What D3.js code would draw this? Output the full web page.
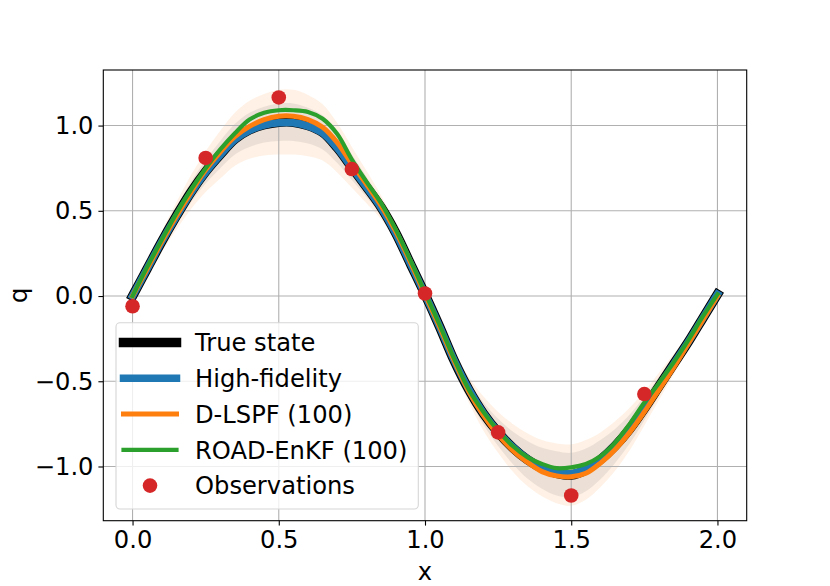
<!DOCTYPE html>
<html>
<head>
<meta charset="utf-8">
<script src="https://cdn.jsdelivr.net/npm/d3@7"></script>
<style>
  body { margin: 0; background: #fff; }
  text { font-family: "DejaVu Sans", sans-serif; }
</style>
</head>
<body>
<svg id="canvas"></svg>
<script>
let width = 830;
let height = 586;
let fontSize = 24.2;

// data, x grid every 0.05
let xs = [0.00,0.05,0.10,0.15,0.20,0.25,0.30,0.35,0.40,0.45,0.50,0.55,0.60,0.65,0.70,0.75,0.80,0.85,0.90,0.95,
          1.00,1.05,1.10,1.15,1.20,1.25,1.30,1.35,1.40,1.45,1.50,1.55,1.60,1.65,1.70,1.75,1.80,1.85,1.90,1.95,2.00];

let trueState = [0.00,0.16,0.32,0.47,0.61,0.73,0.83,0.92,0.975,1.005,1.02,1.02,1.00,0.96,0.87,0.755,0.64,0.52,0.37,0.19,
                 0.01,-0.18,-0.38,-0.55,-0.69,-0.80,-0.89,-0.96,-1.01,-1.04,-1.05,-1.02,-0.96,-0.88,-0.78,-0.66,-0.53,-0.40,-0.27,-0.13,0.01];

let highFidelity = [0.00,0.16,0.32,0.468,0.607,0.727,0.828,0.918,0.972,1.002,1.016,1.016,0.997,0.957,0.868,0.753,0.638,0.518,0.368,0.19,
                    0.01,-0.18,-0.378,-0.548,-0.688,-0.797,-0.886,-0.955,-1.004,-1.033,-1.042,-1.013,-0.955,-0.876,-0.778,-0.658,-0.53,-0.40,-0.27,-0.13,0.01];

let dlspf = [0.00,0.16,0.32,0.47,0.61,0.74,0.845,0.935,0.995,1.035,1.055,1.055,1.035,0.99,0.90,0.775,0.655,0.53,0.38,0.20,
             0.01,-0.18,-0.38,-0.56,-0.70,-0.815,-0.905,-0.975,-1.03,-1.055,-1.06,-1.04,-0.98,-0.90,-0.80,-0.68,-0.55,-0.42,-0.28,-0.14,0.00];

let roadEnkf = [0.00,0.17,0.33,0.485,0.625,0.75,0.86,0.955,1.035,1.075,1.09,1.09,1.08,1.04,0.95,0.80,0.67,0.545,0.39,0.21,
                0.02,-0.17,-0.37,-0.55,-0.68,-0.79,-0.88,-0.945,-0.985,-1.01,-1.005,-0.985,-0.94,-0.86,-0.75,-0.625,-0.51,-0.39,-0.26,-0.12,0.01];

// ensemble spread (half widths) of the two shaded bands
let innerSpread = [0.01,0.02,0.035,0.05,0.06,0.07,0.08,0.09,0.10,0.105,0.11,0.11,0.105,0.10,0.09,0.075,0.06,0.045,0.035,0.025,
                   0.02,0.025,0.035,0.05,0.065,0.08,0.095,0.11,0.12,0.13,0.13,0.125,0.115,0.10,0.085,0.07,0.055,0.045,0.03,0.02,0.01];
let outerSpread = [0.02,0.04,0.06,0.08,0.10,0.12,0.14,0.155,0.17,0.18,0.19,0.19,0.18,0.165,0.145,0.12,0.095,0.07,0.05,0.035,
                   0.03,0.035,0.05,0.075,0.10,0.12,0.14,0.155,0.165,0.175,0.18,0.175,0.16,0.145,0.125,0.10,0.08,0.06,0.045,0.03,0.02];

let obsX = [0.0,0.25,0.5,0.75,1.0,1.25,1.5,1.75];
let obsQ = [-0.06,0.81,1.165,0.745,0.015,-0.80,-1.17,-0.575];

let xTicks = [0.0,0.5,1.0,1.5,2.0];
let yTicks = [-1.0,-0.5,0.0,0.5,1.0];

let series = [
  {name: 'True state', values: trueState, color: '#000000', lw: 9.5},
  {name: 'High-fidelity', values: highFidelity, color: '#1f77b4', lw: 7.5},
  {name: 'D-LSPF (100)', values: dlspf, color: '#ff7f0e', lw: 5},
  {name: 'ROAD-EnKF (100)', values: roadEnkf, color: '#2ca02c', lw: 4.2}
];

let plotLeft = 103.3, plotRight = 746.7, plotTop = 70, plotBottom = 520.7;

let canvas = d3.select('#canvas').attr('width', width).attr('height', height);

let xScale = d3.scaleLinear().domain([-0.1, 2.1]).range([plotLeft, plotRight]);
let yScale = d3.scaleLinear().domain([-1.318, 1.326]).range([plotBottom, plotTop]);

let fmt = d => d3.format('.1f')(d).replace('-', '\u2212');

let drawBands = () => {
  let band = (spread) => d3.area()
    .x((d, i) => xScale(xs[i]))
    .y0((d, i) => yScale(trueState[i] - spread[i]))
    .y1((d, i) => yScale(trueState[i] + spread[i]))
    .curve(d3.curveCatmullRom);

  canvas.append('path')
    .datum(xs)
    .attr('d', band(outerSpread))
    .attr('fill', '#ff7f0e')
    .attr('fill-opacity', 0.11);

  canvas.append('path')
    .datum(xs)
    .attr('d', band(innerSpread))
    .attr('fill', '#808080')
    .attr('fill-opacity', 0.15);
}

let drawGrid = () => {
  let g = canvas.append('g').attr('id', 'grid');
  g.selectAll('.vgrid')
    .data(xTicks)
    .enter()
    .append('line')
    .attr('x1', d => xScale(d)).attr('x2', d => xScale(d))
    .attr('y1', plotTop).attr('y2', plotBottom)
    .attr('stroke', '#b0b0b0').attr('stroke-width', 1.1);
  g.selectAll('.hgrid')
    .data(yTicks)
    .enter()
    .append('line')
    .attr('y1', d => yScale(d)).attr('y2', d => yScale(d))
    .attr('x1', plotLeft).attr('x2', plotRight)
    .attr('stroke', '#b0b0b0').attr('stroke-width', 1.1);
}

let drawLines = () => {
  series.forEach(s => {
    let line = d3.line()
      .x((d, i) => xScale(xs[i]))
      .y(d => yScale(d))
      .curve(d3.curveCatmullRom);
    canvas.append('path')
      .datum(s.values)
      .attr('d', line)
      .attr('fill', 'none')
      .attr('stroke', s.color)
      .attr('stroke-width', s.lw)
      .attr('stroke-linecap', 'square')
      .attr('stroke-linejoin', 'round');
  });

  canvas.append('g')
    .selectAll('circle')
    .data(obsX)
    .enter()
    .append('circle')
    .attr('cx', d => xScale(d))
    .attr('cy', (d, i) => yScale(obsQ[i]))
    .attr('r', 7.3)
    .attr('fill', '#d62728');
}

let drawAxes = () => {
  let xAxis = d3.axisBottom(xScale)
    .tickValues(xTicks)
    .tickFormat(fmt)
    .tickSizeInner(4.9)
    .tickSizeOuter(0)
    .tickPadding(4.9);

  let xg = canvas.append('g')
    .attr('id', 'x-axis')
    .attr('transform', `translate(0,${plotBottom})`)
    .call(xAxis);
  xg.select('.domain').remove();

  let yAxis = d3.axisLeft(yScale)
    .tickValues(yTicks)
    .tickFormat(fmt)
    .tickSizeInner(4.9)
    .tickSizeOuter(0)
    .tickPadding(4.9);

  let yg = canvas.append('g')
    .attr('id', 'y-axis')
    .attr('transform', `translate(${plotLeft},0)`)
    .call(yAxis);
  yg.select('.domain').remove();

  canvas.selectAll('.tick line').attr('stroke', '#000').attr('stroke-width', 1.1);
  canvas.selectAll('.tick text')
    .attr('font-family', 'DejaVu Sans')
    .attr('font-size', fontSize)
    .attr('fill', '#000');

  canvas.append('rect')
    .attr('x', plotLeft).attr('y', plotTop)
    .attr('width', plotRight - plotLeft).attr('height', plotBottom - plotTop)
    .attr('fill', 'none')
    .attr('stroke', '#000')
    .attr('stroke-width', 1.1);

  canvas.append('text')
    .attr('x', (plotLeft + plotRight) / 2)
    .attr('y', 580)
    .attr('text-anchor', 'middle')
    .attr('font-size', fontSize)
    .text('x');

  canvas.append('text')
    .attr('transform', `translate(27,${(plotTop + plotBottom) / 2}) rotate(-90)`)
    .attr('text-anchor', 'middle')
    .attr('font-size', fontSize)
    .text('q');
}

let drawLegend = () => {
  let legend = canvas.append('g').attr('id', 'legend');
  legend.append('rect')
    .attr('x', 116).attr('y', 322.7)
    .attr('width', 302.3).attr('height', 186.3)
    .attr('rx', 4)
    .attr('fill', '#fff').attr('fill-opacity', 0.8)
    .attr('stroke', '#d6d6d6').attr('stroke-width', 1.1);

  let rowY = i => 342.4 + i * 35.8;

  series.forEach((s, i) => {
    legend.append('line')
      .attr('x1', 123.5).attr('x2', 176.5)
      .attr('y1', rowY(i)).attr('y2', rowY(i))
      .attr('stroke', s.color)
      .attr('stroke-width', s.lw)
      .attr('stroke-linecap', 'square');
    legend.append('text')
      .attr('x', 195).attr('y', rowY(i) + 8.8)
      .attr('font-size', fontSize)
      .text(s.name);
  });

  legend.append('circle')
    .attr('cx', 150).attr('cy', rowY(4))
    .attr('r', 7.3)
    .attr('fill', '#d62728');
  legend.append('text')
    .attr('x', 195).attr('y', rowY(4) + 8.8)
    .attr('font-size', fontSize)
    .text('Observations');
}

drawBands();
drawGrid();
drawLines();
drawAxes();
drawLegend();
</script>
</body>
</html>
